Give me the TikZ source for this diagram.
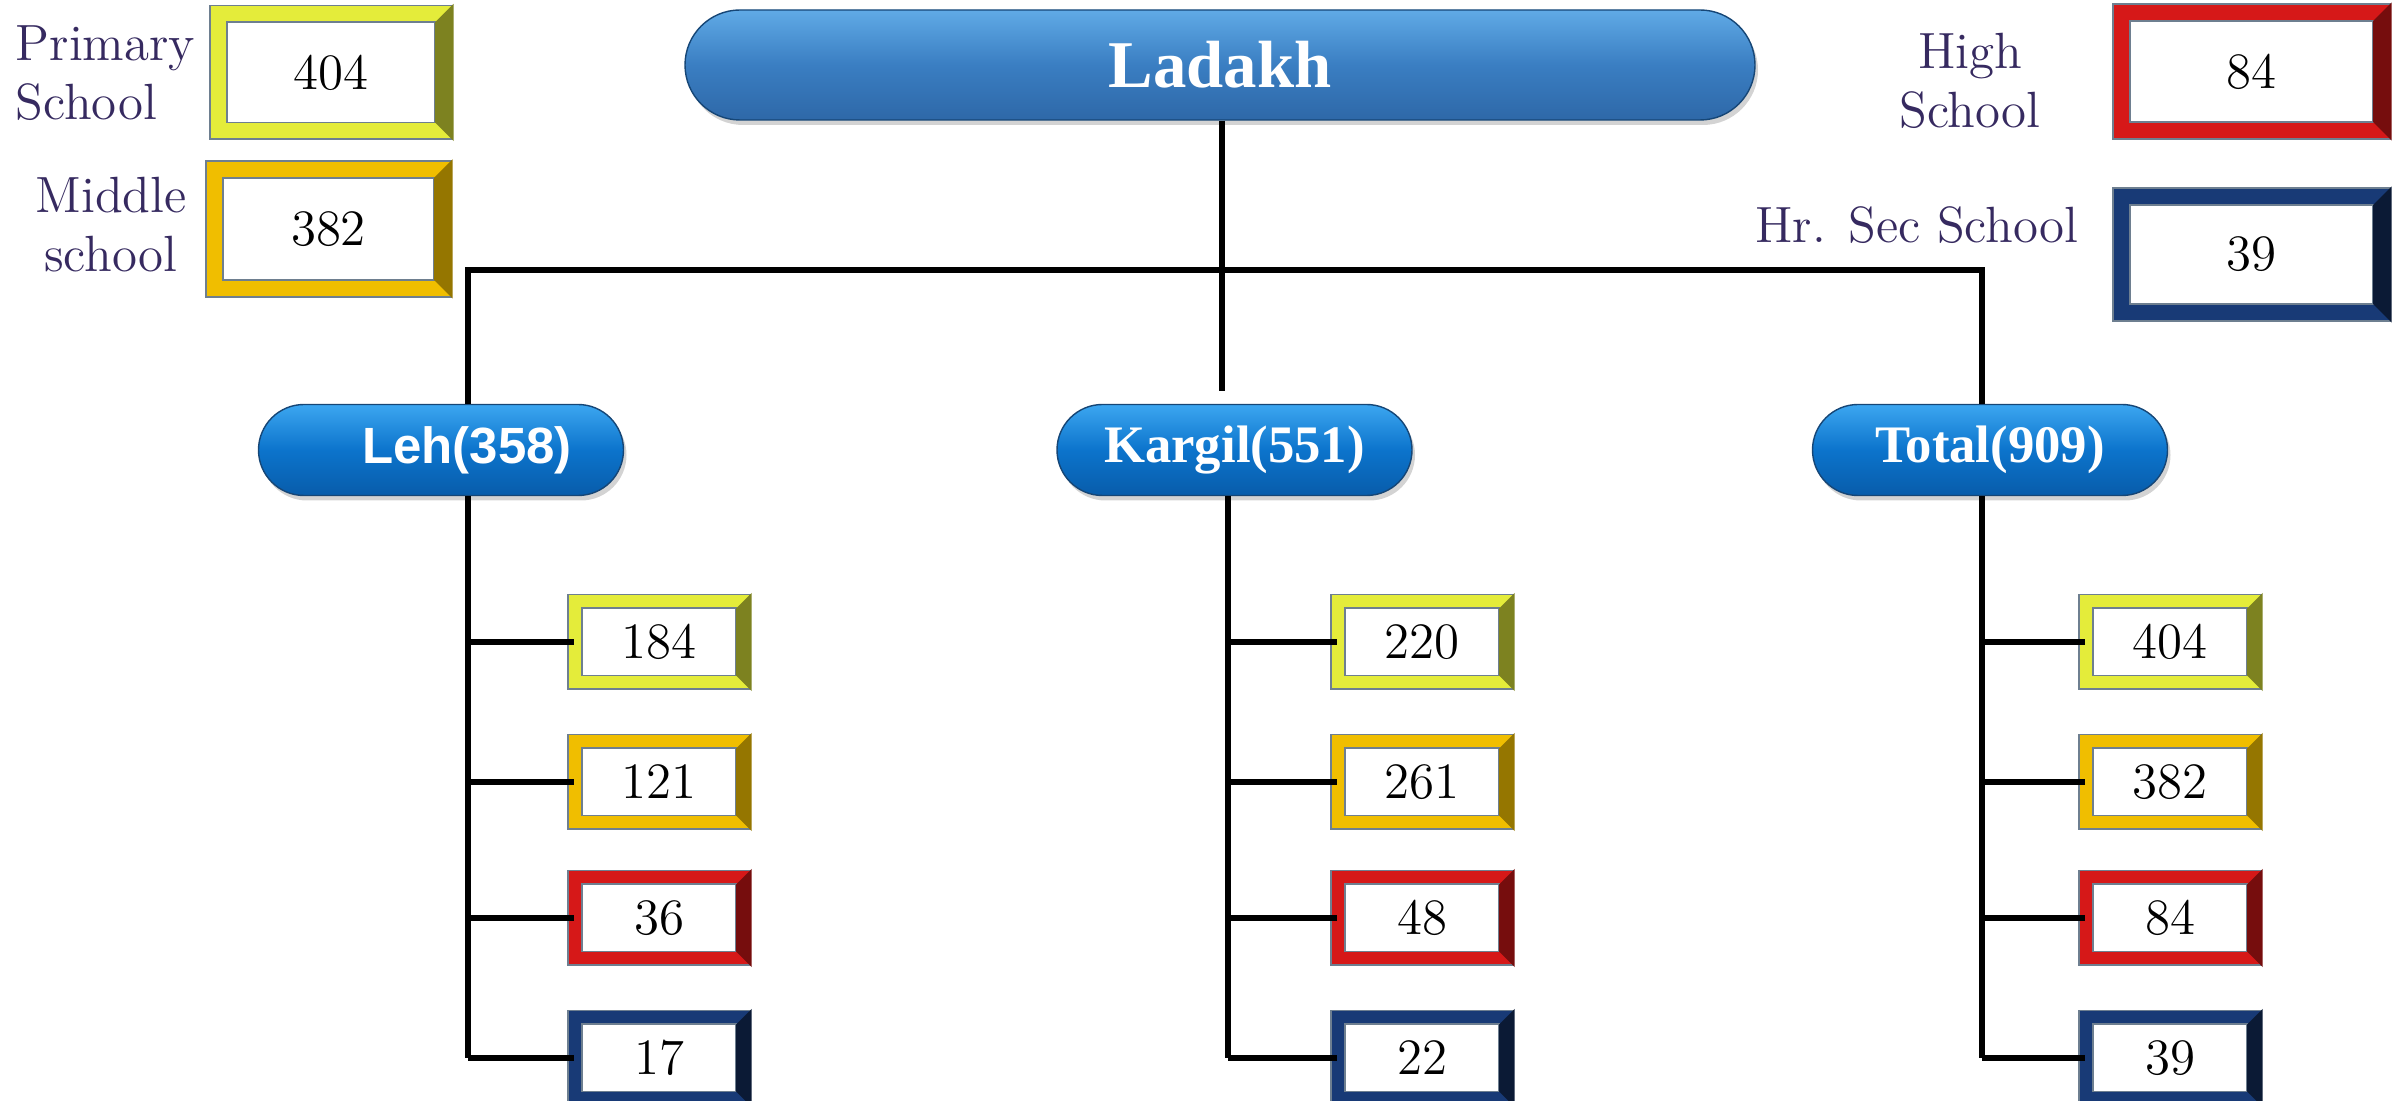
\documentclass[tikz,border=0pt]{standalone}
\usepackage{fontspec}
\usepackage{tikz}
\usetikzlibrary{positioning, shapes.misc, shadows}
\newfontfamily\lehfont{Liberation Sans}
\newfontfamily\pillfont{Liberation Serif}
\definecolor{labelpurple}{RGB}{54,42,96}
\definecolor{frameedge}{RGB}{110,127,144}
\definecolor{pyel}{RGB}{228,236,58}
\definecolor{pgold}{RGB}{240,190,0}
\definecolor{pred}{RGB}{214,24,24}
\definecolor{pnavy}{RGB}{24,58,118}
\definecolor{skytop}{RGB}{96,170,230}
\definecolor{skymid}{RGB}{58,126,194}
\definecolor{skybot}{RGB}{46,104,168}
\definecolor{disttop}{RGB}{60,166,240}
\definecolor{distmid}{RGB}{12,116,204}
\definecolor{distbot}{RGB}{8,92,170}
\definecolor{pillrim}{RGB}{22,70,118}

% darker right side of a frame: node, half band width, colour
\newcommand{\rightbevel}[3]{%
	\fill[#3] ([shift={(#2,#2)}]#1.north east) -- ([shift={(#2,-#2)}]#1.south east)
		-- ([shift={(-#2,#2)}]#1.south east) -- ([shift={(-#2,-#2)}]#1.north east) -- cycle;}

\tikzset{
	link/.style={line width=1.7pt, black},
	numbox/.style={draw=frameedge, line width=0.5pt, double=#1, double distance=0.12cm,
		fill=white, minimum width=1.68cm, minimum height=0.81cm, inner sep=0pt,
		font=\fontsize{14.5}{17}\selectfont},
	legtext/.style={text=labelpurple, inner sep=0pt, font=\fontsize{14.5}{16.8}\selectfont},
	pill/.style={rounded rectangle, draw=pillrim, line width=0.4pt, text=white, inner sep=0pt,
		top color=disttop, bottom color=distbot, middle color=distmid,
		drop shadow={opacity=0.35, shadow xshift=0.03cm, shadow yshift=-0.05cm},
		minimum height=0.91cm}
}

\begin{document}
\begin{tikzpicture}
		\useasboundingbox (0,0) rectangle (24.07,-11.01);
		% top pill
		\node[pill, top color=skytop, bottom color=skybot, middle color=skymid,
			minimum width=10.7cm, minimum height=1.1cm, font=\pillfont\bfseries\fontsize{19}{22}\selectfont] (ladakh) at (12.2,-0.65) {Ladakh};
		% districts
		\node[pill, minimum width=3.65cm, font=\lehfont\bfseries\fontsize{14.5}{17}\selectfont] (leh) at (4.41,-4.50) {\hspace*{0.52cm}Leh(358)};
		\node[pill, minimum width=3.55cm, font=\pillfont\bfseries\fontsize{15}{18}\selectfont] (kargil) at (12.345,-4.50) {Kargil(551)};
		\node[pill, minimum width=3.55cm, font=\pillfont\bfseries\fontsize{15}{18}\selectfont] (total) at (19.90,-4.50) {Total(909)};

		% legend
		\node[legtext, align=left, anchor=north west] (primlbl) at (0.15,-0.25) {Primary\\School};
		\node[legtext, align=center, anchor=north] (midlbl) at (1.11,-1.765) {Middle\\school};
		\node[legtext, align=center, anchor=north] (highlbl) at (19.70,-0.325) {High\\School};
		\node[legtext, anchor=base] (hrlbl) at (19.17,-2.43) {Hr. Sec School};
		\node[numbox=pyel, minimum width=2.25cm, minimum height=1.17cm, double distance=0.15cm] (primbox) at (3.31,-0.725) {404};
		\node[numbox=pgold, minimum width=2.28cm, minimum height=1.19cm, double distance=0.15cm] (midbox) at (3.285,-2.29) {382};
		\node[numbox=pred, minimum width=2.60cm, minimum height=1.18cm, double distance=0.15cm] (highbox) at (22.515,-0.715) {84};
		\node[numbox=pnavy, minimum width=2.60cm, minimum height=1.16cm, double distance=0.15cm] (hrbox) at (22.515,-2.545) {39};
		\rightbevel{primbox}{0.093}{pyel!55!black}
		\rightbevel{midbox}{0.093}{pgold!62!black}
		\rightbevel{highbox}{0.093}{pred!55!black}
		\rightbevel{hrbox}{0.093}{pnavy!45!black}

		% school boxes
		\foreach \i/\y/\fc/\dk/\a/\b/\c in {1/-6.42/pyel/55/184/220/404, 2/-7.82/pgold/62/121/261/382,
			3/-9.18/pred/55/36/48/84, 4/-10.58/pnavy/45/17/22/39}{
			\node[numbox=\fc] (l\i) at (6.59,\y) {\a};
			\node[numbox=\fc] (k\i) at (14.22,\y) {\b};
			\node[numbox=\fc] (t\i) at (21.70,\y) {\c};
			\rightbevel{l\i}{0.078}{\fc!\dk!black}
			\rightbevel{k\i}{0.078}{\fc!\dk!black}
			\rightbevel{t\i}{0.078}{\fc!\dk!black}
		}

		% trunk lines
		\coordinate (barL) at (4.68,-2.70);
		\coordinate (barR) at (19.82,-2.70);
		\coordinate (kjoin) at (12.22,-3.91);
		\coordinate (kx) at (12.28,-5.0);
		\draw[link] (ladakh.south -| kjoin) -- (kjoin);
		\draw[link] (leh.north -| barL) -- (barL) -- (barR) -- (barR |- total.north);
		\draw[link] (leh.south -| barL) -- (barL |- l4.west);
		\draw[link] (kargil.south -| kx) -- (kx |- k4.west);
		\draw[link] (total.south -| barR) -- (barR |- t4.west);
		\foreach \i in {1,...,4}{
			\draw[link] (barL |- l\i.west) -- (l\i.west);
			\draw[link] (kx |- k\i.west) -- (k\i.west);
			\draw[link] (barR |- t\i.west) -- (t\i.west);
		}
\end{tikzpicture}
\end{document}
